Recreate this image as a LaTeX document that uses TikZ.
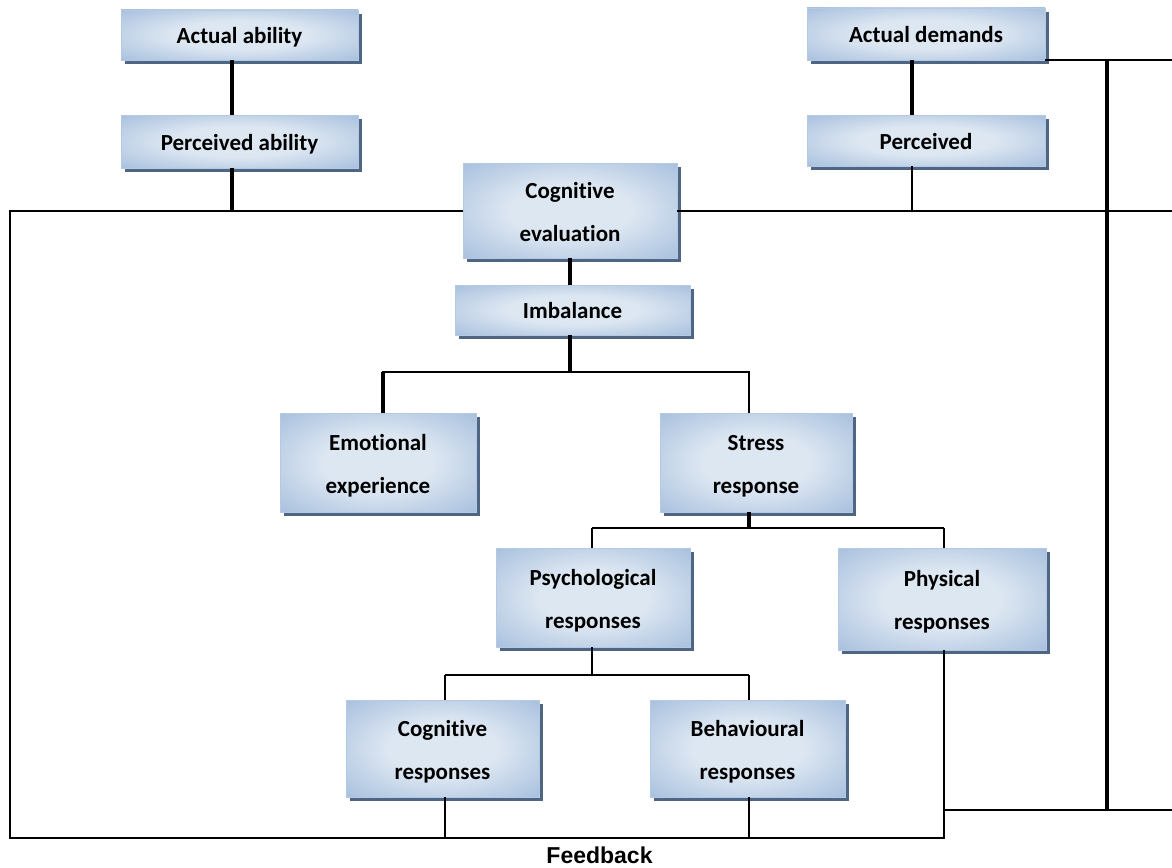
\documentclass[tikz,border=0pt]{standalone}
\usepackage{fontspec}
\newfontfamily\boxfont[Ligatures=NoCommon]{Carlito}
\newfontfamily\fbfont{Liberation Sans}
\usetikzlibrary{shadows,calc}
\definecolor{boxdark}{HTML}{8EADD4}
\definecolor{boxlight}{HTML}{DDE7F2}
\definecolor{boxedge}{HTML}{B4C9E3}
\definecolor{shadowc}{HTML}{2F4B6E}
\pgfdeclareradialshading{boxshade}{\pgfpoint{0bp}{0bp}}{color(0bp)=(boxlight);color(14bp)=(boxlight);color(46bp)=(boxdark);color(75bp)=(boxdark)}
\tikzset{
  box/.style={draw=boxedge, line width=0.8pt, shading=boxshade, align=center,
    font=\boxfont\bfseries\fontsize{23}{43}\selectfont, inner sep=0pt,
    drop shadow={shadow xshift=4pt, shadow yshift=-4pt, fill=shadowc, opacity=0.85}},
  onebox/.style={box, text height=22pt, text depth=5pt},
  twobox/.style={box, text height=66pt, text depth=5pt},
  thk/.style={line width=3.8pt, black},
  thn/.style={line width=2pt, black, line join=miter},
}
\begin{document}
\begin{tikzpicture}[x=1pt,y=-1pt]
\useasboundingbox (0,0) rectangle (1172,867);
% nodes
\node[onebox, minimum width=237pt, minimum height=50pt] (aa) at (239.5,35) {Actual ability};
\node[onebox, minimum width=237pt, minimum height=53pt] (pa) at (239.5,141.5) {Perceived ability};
\node[onebox, minimum width=238pt, minimum height=52pt] (ad) at (926,34) {Actual demands};
\node[onebox, minimum width=238pt, minimum height=51pt] (pd) at (926,140.5) {Perceived};
\node[twobox, minimum width=214pt, minimum height=95pt] (ce) at (570,210.5) {Cognitive\\evaluation};
\node[onebox, minimum width=235pt, minimum height=50pt] (im) at (572.5,310) {Imbalance};
\node[twobox, minimum width=196pt, minimum height=99pt] (em) at (378,462.5) {Emotional\\experience};
\node[twobox, minimum width=192pt, minimum height=99pt] (sr) at (756,462.5) {Stress\\response};
\node[twobox, minimum width=194pt, minimum height=99pt] (ps) at (593,597.5) {Psychological\\responses};
\node[twobox, minimum width=208pt, minimum height=102pt] (ph) at (942,599) {Physical\\responses};
\node[twobox, minimum width=193pt, minimum height=97pt] (cr) at (442.5,748.5) {Cognitive\\responses};
\node[twobox, minimum width=195pt, minimum height=97pt] (br) at (747.5,748.5) {Behavioural\\responses};
\node[font=\fbfont\bfseries\fontsize{23}{26}\selectfont, inner sep=0pt] (fb) at (599.5,855) {Feedback};
% helper coordinates
\coordinate (fbL) at (10,210.5);
\coordinate (fbBL) at (10,838);
\coordinate (phB) at (944,838);
\coordinate (phJ) at (944,810);
\coordinate (rimR) at (1172,810);
\coordinate (vT) at (1107,60);
\coordinate (vB) at (1107,810);
\coordinate (lvA) at (383,372);
\coordinate (lvB) at (749,372);
\coordinate (lsA) at (592,528);
\coordinate (lsB) at (944,528);
\coordinate (lpA) at (445,675);
\coordinate (lpB) at (749,675);
% top left chain
\draw[thk] ([xshift=-7.5pt]aa.south) -- ([xshift=-7.5pt]pa.north);
\draw[thk] ([xshift=-7.5pt]pa.south) -- ([xshift=-7.5pt]pa.south |- ce.west);
% top right chain
\draw[thk] ([xshift=-14pt]ad.south) -- ([xshift=-14pt]pd.north);
\draw[thn] ([xshift=-14pt]pd.south) -- ([xshift=-14pt]pd.south |- ce.east);
\draw[thn] (ad.south east) -- (ad.south east -| rimR);
\draw[thn] (ce.east) -- (ce.east -| rimR);
\draw[thk] (vT) -- (vB);
% feedback loop
\draw[thn] (ph.south -| phB) -- (phB) -- (fbBL) -- (fbL) -- (ce.west);
\draw[thn] (phJ) -- (rimR);
\draw[thn] (cr.south -| lpA) -- (lpA |- fbBL);
\draw[thn] (br.south -| lpB) -- (lpB |- fbBL);
% tree
\draw[thk] (ce.south) -- (ce.south |- im.north);
\draw[thk] (im.south -| ce.south) -- (lvA -| ce.south);
\draw[line width=2.5pt] ([xshift=-1pt]lvA) -- ([xshift=1pt]lvB);
\draw[thk] (lvA) -- (lvA |- em.north);
\draw[thn] (lvB) -- (lvB |- sr.north);
\draw[thk] (sr.south -| lvB) -- (lvB |- lsA);
\draw[thn] (lsA) -- (lsB);
\draw[thn] (lsA) -- (lsA |- ps.north);
\draw[thn] (lsB) -- (lsB |- ph.north);
\draw[thn] (ps.south -| lsA) -- (lsA |- lpA);
\draw[thn] (lpA) -- (lpB);
\draw[thn] (lpA) -- (lpA |- cr.north);
\draw[thn] (lpB) -- (lpB |- br.north);
\end{tikzpicture}
\end{document}
